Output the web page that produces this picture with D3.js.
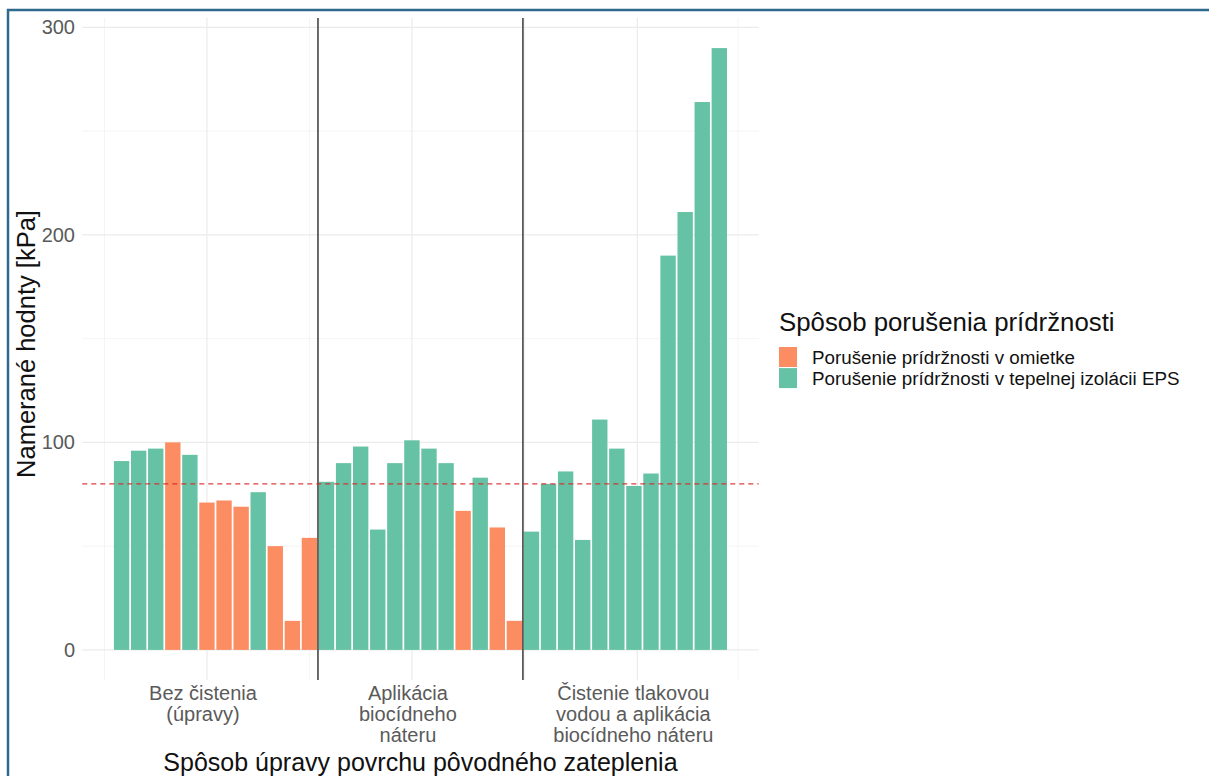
<!DOCTYPE html>
<html><head><meta charset="utf-8">
<script src="https://cdn.jsdelivr.net/npm/d3@7"></script>
<style>
body{margin:0;background:#fff}
svg{display:block}
text{font-family:"Liberation Sans",Arial,Helvetica,sans-serif}
</style>
</head><body>
<svg id="chart" width="1209" height="776"></svg>
<script>
// ---- data ----
const groupLabels = [
  ["Bez čistenia", "(úpravy)"],
  ["Aplikácia", "biocídneho", "náteru"],
  ["Čistenie tlakovou", "vodou a aplikácia", "biocídneho náteru"]
];
const groupPositions = [6, 18, 31.2];          // x positions (bar index units) of group labels / major grid
const minorXPositions = [0, 12, 24.6, 37.1];
const separators = [12.5, 24.5];
const values = [
  91, 96, 97, 100, 94, 71, 72, 69, 76, 50, 14, 54,
  81, 90, 98, 58, 90, 101, 97, 90, 67, 83, 59, 14,
  57, 80, 86, 53, 111, 97, 79, 85, 190, 211, 264, 290
];
// 0 = omietka (plaster), 1 = EPS
const failureType = [
  1,1,1,0,1,0,0,0,1,0,0,0,
  1,1,1,1,1,1,1,1,0,1,0,0,
  1,1,1,1,1,1,1,1,1,1,1,1
];
const failureNames = ["Porušenie prídržnosti v omietke", "Porušenie prídržnosti v tepelnej izolácii EPS"];
const failureColors = ["#fc8d62", "#66c2a5"];
const yTicks = [0, 100, 200, 300];
const yMinor = [50, 150, 250];
const threshold = 80;
const legendTitle = "Spôsob porušenia prídržnosti";
const xTitle = "Spôsob úpravy povrchu pôvodného zateplenia";
const yTitle = "Namerané hodnty [kPa]";

// ---- chart ----
const svg = d3.select("#chart");
const x = d3.scaleLinear().domain([-1.3, 38.3]).range([82.3, 758.6]);
const y = d3.scaleLinear().domain([-14.5, 304.5]).range([680, 18]);
const [x0, x1] = x.range();
const [yb, yt] = y.range();

const grid = svg.append("g");
grid.selectAll(".hmin").data(yMinor).join("line")
  .attr("x1", x0).attr("x2", x1).attr("y1", d => y(d)).attr("y2", d => y(d))
  .attr("stroke", "#f3f3f3").attr("stroke-width", 0.9);
grid.selectAll(".vmin").data(minorXPositions).join("line")
  .attr("x1", d => x(d)).attr("x2", d => x(d)).attr("y1", yb).attr("y2", yt)
  .attr("stroke", "#f3f3f3").attr("stroke-width", 0.9);
grid.selectAll(".hmaj").data(yTicks).join("line")
  .attr("x1", x0).attr("x2", x1).attr("y1", d => y(d)).attr("y2", d => y(d))
  .attr("stroke", "#ebebeb").attr("stroke-width", 1.2);
grid.selectAll(".vmaj").data(groupPositions).join("line")
  .attr("x1", d => x(d)).attr("x2", d => x(d)).attr("y1", yb).attr("y2", yt)
  .attr("stroke", "#ebebeb").attr("stroke-width", 1.2);

// bars
const bw = x(0.9) - x(0);
svg.append("g").selectAll("rect").data(values).join("rect")
  .attr("x", (d, i) => x(i + 1) - bw / 2)
  .attr("width", bw)
  .attr("y", d => y(d))
  .attr("height", d => y(0) - y(d))
  .attr("fill", (d, i) => failureColors[failureType[i]]);

// separators
svg.append("g").selectAll("line").data(separators).join("line")
  .attr("x1", d => x(d)).attr("x2", d => x(d)).attr("y1", yb).attr("y2", yt)
  .attr("stroke", "#3a3a3a").attr("stroke-width", 1.5);

// threshold
svg.append("line")
  .attr("x1", x0).attr("x2", x1).attr("y1", y(threshold)).attr("y2", y(threshold))
  .attr("stroke", "rgba(215,40,40,0.9)").attr("stroke-width", 1.4)
  .attr("stroke-dasharray", "5,4");

// y tick labels
svg.append("g").selectAll("text").data(yTicks).join("text")
  .attr("x", 75).attr("y", d => y(d)).attr("dy", "0.35em")
  .attr("text-anchor", "end").attr("font-size", 20).attr("fill", "#5a5a5a")
  .text(d => d);

// x tick labels
const xl = svg.append("g").selectAll("text").data(groupLabels).join("text")
  .attr("text-anchor", "middle").attr("font-size", 20).attr("fill", "#5a5a5a")
  .attr("transform", (d, i) => `translate(${x(groupPositions[i]) - 4},700)`);
xl.selectAll("tspan").data(d => d).join("tspan")
  .attr("x", 0).attr("y", (d, j) => j * 21.2).text(d => d);

// axis titles
svg.append("text").attr("x", (x0 + x1) / 2).attr("y", 771)
  .attr("text-anchor", "middle").attr("font-size", 25).attr("fill", "#111").text(xTitle);
svg.append("text").attr("transform", `translate(35,${(yb + yt) / 2 - 5}) rotate(-90)`)
  .attr("text-anchor", "middle").attr("font-size", 25.5).attr("fill", "#111").text(yTitle);

// legend
const lg = svg.append("g").attr("transform", "translate(779,0)");
lg.append("text").attr("x", 0).attr("y", 331).attr("font-size", 25.8).attr("fill", "#111").text(legendTitle);
const items = lg.selectAll(".it").data(failureNames).join("g")
  .attr("transform", (d, i) => `translate(0,${347 + i * 21.1})`);
items.append("rect").attr("width", 18).attr("height", 20).attr("fill", (d, i) => failureColors[i]);
items.append("text").attr("x", 33).attr("y", 10).attr("dy", "0.35em")
  .attr("font-size", 18.8).attr("fill", "#111").text(d => d);

// outer frame
svg.append("path").attr("d", "M8,776 V10 H1209")
  .attr("fill", "none").attr("stroke", "#2f6a8e").attr("stroke-width", 2.5);
</script>
</body></html>
